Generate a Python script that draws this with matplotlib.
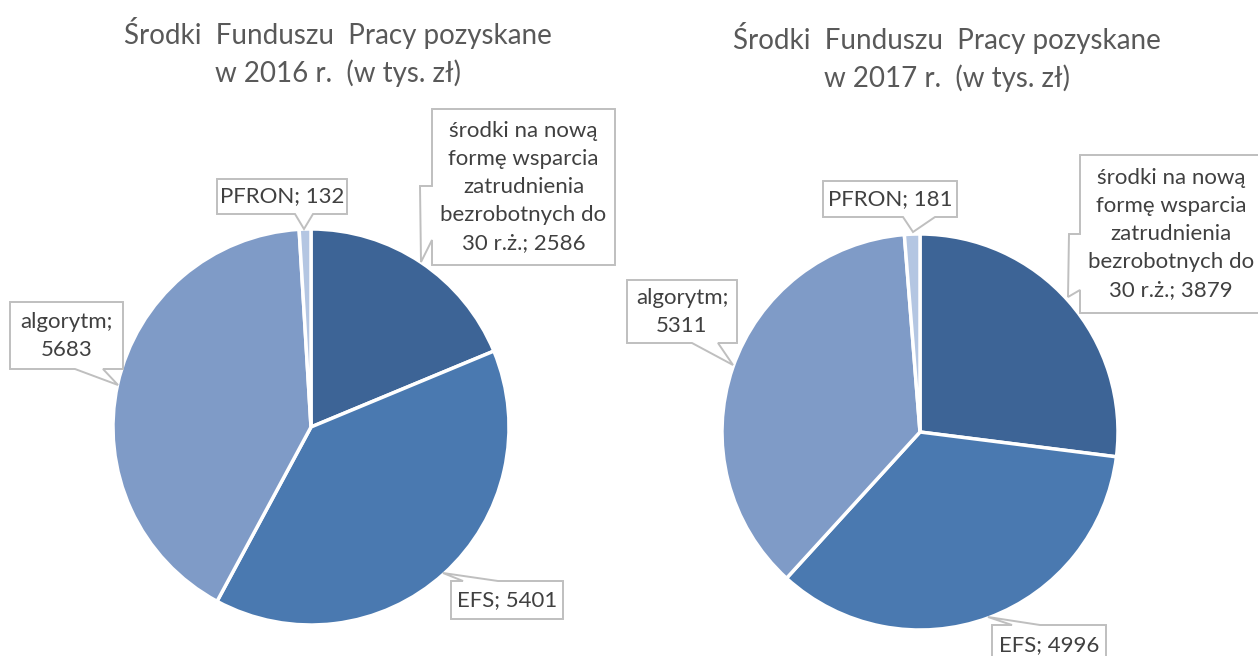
import matplotlib
matplotlib.use("Agg")
import matplotlib.pyplot as plt
from matplotlib.patches import Polygon

plt.rcParams["font.family"] = ["Lato", "DejaVu Sans"]

W, H = 1258, 656

# --- data ---
categories = ["środki na nową\nformę wsparcia\nzatrudnienia\nbezrobotnych do\n30 r.ż.",
              "EFS", "algorytm", "PFRON"]
separators = ["; ", "; ", ";\n", "; "]
values_2016 = [2586, 5401, 5683, 132]
values_2017 = [3879, 4996, 5311, 181]
titles = ["Środki  Funduszu  Pracy pozyskane\nw 2016 r.  (w tys. zł)",
          "Środki  Funduszu  Pracy pozyskane\nw 2017 r.  (w tys. zł)"]
colors = ["#3D6496", "#4A79B0", "#7F9BC7", "#B4C6E2"]

# --- layout (pixels, y down) ---
pies = [
    dict(center=(311, 427), title_xy=(338, 52), callouts=[
        ((432, 109, 615, 265), "left", [(432, 240), (421, 262), (420, 186), (432, 186)]),
        ((451, 581, 563, 619), "top", [(463, 581), (443, 573), (498, 581)]),
        ((10, 302, 123, 369), "bottom", [(103, 369), (118, 385), (75, 369)]),
        ((217, 179, 347, 214), "bottom", [(313, 214), (304, 229), (295, 214)]),
    ]),
    dict(center=(920, 432), title_xy=(947, 57), callouts=[
        ((1080, 155, 1262, 313), "left", [(1080, 290), (1068, 297), (1069, 234), (1080, 234)]),
        ((992, 625, 1106, 666), "top", [(1012, 625), (988, 617), (1040, 625)]),
        ((627, 280, 737, 343), "bottom", [(718, 343), (733, 365), (692, 343)]),
        ((823, 181, 957, 217), "bottom", [(935, 217), (913, 232), (903, 217)]),
    ]),
]
RADIUS = 198


def callout_outline(box, side, pts):
    x0, y0, x1, y1 = box
    tl, tr, br, bl = (x0, y0), (x1, y0), (x1, y1), (x0, y1)
    if side == "top":
        return [tl] + pts + [tr, br, bl]
    if side == "bottom":
        return [tl, tr, br] + pts + [bl]
    if side == "left":
        return [tl, tr, br, bl] + pts
    return [tl, tr] + pts + [br, bl]


fig = plt.figure(figsize=(W / 100, H / 100), dpi=100)
ax = fig.add_axes([0, 0, 1, 1])

for values, layout, title in zip([values_2016, values_2017], pies, titles):
    # y axis is inverted below, so start at -90 and go "counterclockwise" in data
    ax.pie(values, colors=colors, startangle=-90, counterclock=True,
           center=layout["center"], radius=RADIUS, frame=True,
           wedgeprops=dict(edgecolor="white", linewidth=2.5))
    tx, ty = layout["title_xy"]
    ax.text(tx, ty, title, ha="center", va="center", fontsize=20,
            color="#595959", linespacing=1.45)
    for name, sep, val, (box, side, pts) in zip(categories, separators, values,
                                                layout["callouts"]):
        ax.add_patch(Polygon(callout_outline(box, side, pts), closed=True,
                             facecolor="white", edgecolor="#BFBFBF", lw=1.4,
                             zorder=3))
        x0, y0, x1, y1 = box
        yc = (y0 + y1) / 2 if y1 <= H else 645
        ax.text((x0 + x1) / 2, yc, f"{name}{sep}{val}", ha="center", va="center",
                fontsize=16, color="#404040", linespacing=1.5, zorder=4)

ax.set_xlim(0, W)
ax.set_ylim(H, 0)
ax.axis("off")

fig.savefig("out.png", dpi=100)
